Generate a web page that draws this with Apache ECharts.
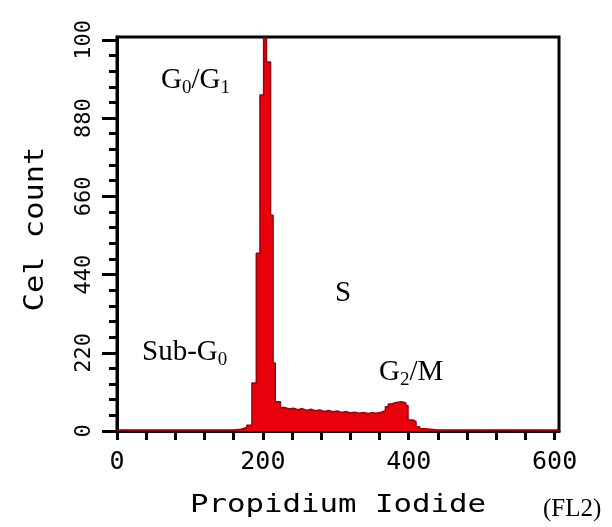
<!DOCTYPE html>
<html>
<head>
<meta charset="utf-8">
<script src="https://cdn.jsdelivr.net/npm/echarts@6/dist/echarts.min.js"></script>
<style>
  html, body { margin: 0; padding: 0; background: #fff; }
  #chart { width: 612px; height: 527px; }
</style>
</head>
<body>
<div id="chart"></div>
<script>
// histogram bins: left edge of each channel bin and its cell count
var channels = [0, 150, 160, 170, 178, 185, 191, 196, 201, 205, 210.5, 214, 217,
  224, 230, 236, 242, 248, 254, 260, 266, 272, 278, 284, 290, 296, 302, 308, 314,
  320, 326, 332, 338, 344, 350, 356, 362, 368, 372, 376, 383, 390, 396, 399, 406,
  410, 415, 422, 440, 606];
var counts = [2, 3, 5, 10, 16, 135, 500, 945, 1105, 1038, 607, 191, 82,
  66, 62, 64, 60, 63, 58, 61, 57, 59, 55, 58, 54, 56, 52, 55, 51,
  53, 50, 52, 49, 51, 50, 53, 57, 68, 76, 80, 82, 79, 72, 31, 26,
  12, 6, 3, 2, 2];

// axis ticks and labels
var xTickValues = [0, 40, 80, 120, 160, 200, 240, 280, 320, 360, 400, 440, 480, 520, 560, 600];
var xLabelValues = [0, 200, 400, 600];
var yTickValues = [0, 220, 440, 660, 880, 1100];
var yTickLabels = ['0', '220', '440', '660', '880', '100'];
var yMinorValues = [0, 44, 88, 132, 176, 220, 264, 308, 352, 396, 440, 484, 528, 572, 616,
  660, 704, 748, 792, 836, 880, 924, 968, 1012, 1056, 1100];

var chart = echarts.init(document.getElementById('chart'));

var monoFont = '"DejaVu Sans Mono", monospace';
var serif = '"Liberation Serif", "Times New Roman", serif';

// subscript styles for the phase labels
var rich = {
  n: { fontSize: 29, fontFamily: serif, fill: '#000', lineHeight: 32, verticalAlign: 'bottom', padding: [0, 0, 3, 0] },
  s: { fontSize: 19, fontFamily: serif, fill: '#000', lineHeight: 20, verticalAlign: 'bottom' }
};
function phaseLabel(text, x, y) {
  return {
    type: 'text', x: x, y: y, z: 10,
    style: { text: text, rich: rich, align: 'left', verticalAlign: 'bottom' }
  };
}

var option = {
  animation: false,
  backgroundColor: '#fff',
  grid: {
    left: 117, right: 53, top: 37, bottom: 96,
    show: true, borderColor: '#000', borderWidth: 3, backgroundColor: '#fff'
  },
  xAxis: {
    type: 'value', min: 0, max: 606,
    axisLine: { show: true, onZero: false, lineStyle: { color: '#000', width: 3 } },
    axisTick: { show: true, customValues: xTickValues, length: 9, lineStyle: { color: '#000', width: 3 } },
    axisLabel: {
      customValues: xLabelValues, margin: 19,
      color: '#000', fontFamily: monoFont, fontSize: 25
    },
    splitLine: { show: false }
  },
  yAxis: [
    {
      type: 'value', min: 0, max: 1108, position: 'left',
      axisLine: { show: true, onZero: false, lineStyle: { color: '#000', width: 3 } },
      axisTick: { show: true, customValues: yTickValues, length: 15, lineStyle: { color: '#000', width: 3 } },
      axisLabel: {
        customValues: yTickValues, rotate: 90, margin: 22,
        color: '#000', fontFamily: monoFont, fontSize: 22,
        formatter: function (v) { return yTickLabels[yTickValues.indexOf(v)]; }
      },
      splitLine: { show: false }
    },
    {
      type: 'value', min: 0, max: 1108, position: 'left',
      axisLine: { show: false },
      axisTick: { show: true, customValues: yMinorValues, length: 8, lineStyle: { color: '#000', width: 3 } },
      axisLabel: { show: false },
      splitLine: { show: false }
    }
  ],
  series: [{
    type: 'line',
    step: 'end',
    symbol: 'none',
    data: channels.map(function (c, i) { return [c, counts[i]]; }),
    lineStyle: { color: '#9e000e', width: 1.5 },
    areaStyle: { color: '#e8000b', opacity: 1 }
  }],
  graphic: [
    {
      type: 'text', x: 36, y: 229, rotation: Math.PI / 2, scaleX: 1.17,
      style: { text: 'Cel count', font: '26px ' + monoFont, fill: '#000', align: 'center', verticalAlign: 'middle' }
    },
    {
      type: 'text', x: 338, y: 506, scaleX: 1.28,
      style: { text: 'Propidium Iodide', font: '24px ' + monoFont, fill: '#000', align: 'center', verticalAlign: 'middle' }
    },
    {
      type: 'text', x: 543, y: 509,
      style: { text: '(FL2)', font: '25px ' + serif, fill: '#000', align: 'left', verticalAlign: 'middle' }
    },
    phaseLabel('{n|G}{s|0}{n|/G}{s|1}', 161, 98),
    phaseLabel('{n|S}', 335, 311),
    phaseLabel('{n|Sub-G}{s|0}', 142, 370),
    phaseLabel('{n|G}{s|2}{n|/M}', 379, 390)
  ]
};
chart.setOption(option);
</script>
</body>
</html>
